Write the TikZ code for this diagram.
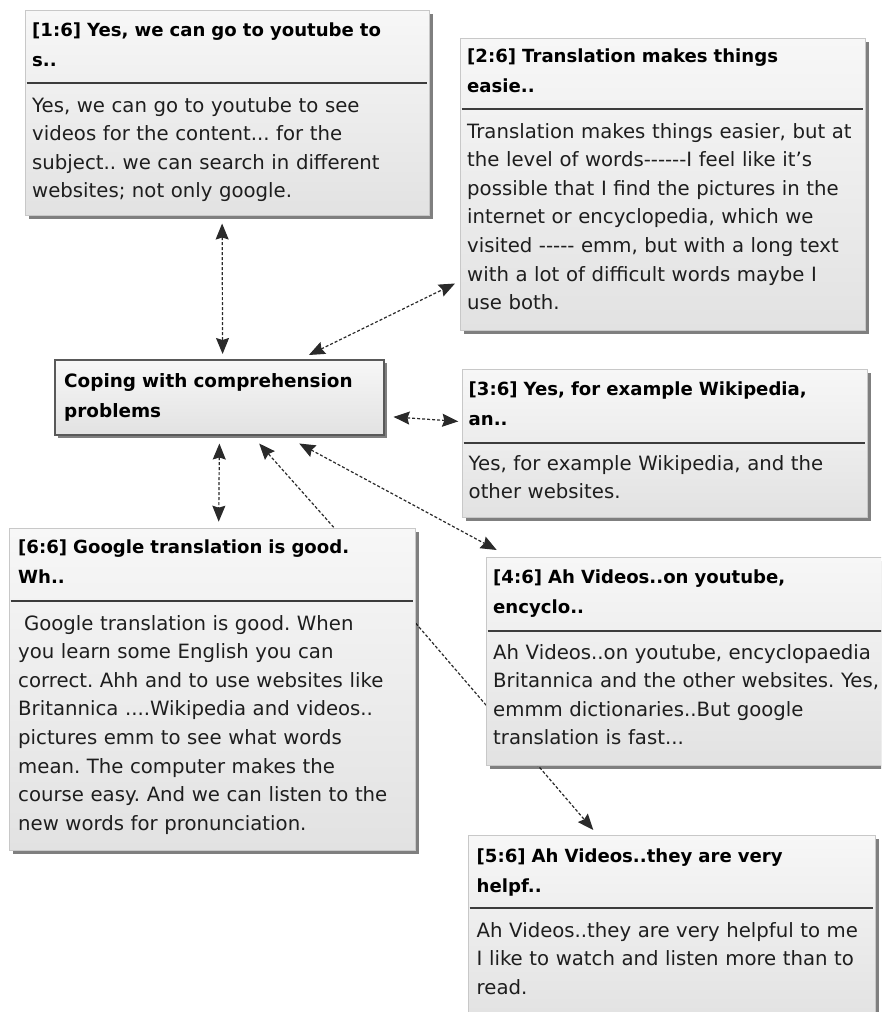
\documentclass[tikz,border=0pt]{standalone}
\usepackage{fontspec}
\setmainfont{DejaVu Sans}
\usetikzlibrary{arrows.meta,shadows,backgrounds,calc}
\definecolor{boxtop}{HTML}{F7F7F7}
\definecolor{boxbot}{HTML}{E2E2E2}
\definecolor{edgec}{HTML}{C8C8C8}
\definecolor{sepc}{HTML}{3C3C3C}
\definecolor{conc}{HTML}{2A2A2A}
\definecolor{txtc}{HTML}{1E1E1E}
\frenchspacing
\tikzset{
  card/.style={rectangle, anchor=north west, inner sep=0pt, draw=edgec, line width=0.8pt,
    top color=boxtop, bottom color=boxbot,
    drop shadow={shadow xshift=3.5pt, shadow yshift=-3.5pt, fill=black, opacity=0.5}},
  hub/.style={card, draw=black!65, line width=1.8pt},
  ttl/.style={anchor=base west, inner sep=0pt, text width=420pt, align=left,
    font=\bfseries\fontsize{18.1}{30}\selectfont, text=black},
  bdy/.style={anchor=base west, inner sep=0pt, text width=420pt, align=left,
    font=\fontsize{19.7}{28.6}\selectfont, text=txtc},
  divider/.style={draw=sepc, line width=1.3pt},
  conn/.style={draw=conc, line width=1.2pt, dash pattern=on 3pt off 2pt},
}
\begin{document}
\begin{tikzpicture}[x=1pt, y=-1pt, >={Stealth[length=16pt,width=13pt,inset=2pt]}]
\useasboundingbox (0,0) rectangle (881,1012);
\clip (0,0) rectangle (881,1012);

% box 1
\node[card, minimum width=404pt, minimum height=205pt] (b1) at (25,10) {};
\node[ttl] (b1t) at (32,36) {[1:6] Yes, we can go to youtube to\\s..};
\draw[divider] ([xshift=1.5pt]b1.west |- 0,83) -- ([xshift=-3pt]b1.east |- 0,83);
\node[bdy] (b1b) at (32,112) {Yes, we can go to youtube to see\\videos for the content... for the\\subject.. we can search in different\\websites; not only google.};

% box 2
\node[card, minimum width=405pt, minimum height=292pt] (b2) at (460,38) {};
\node[ttl] (b2t) at (467,62) {[2:6] Translation makes things\\easie..};
\draw[divider] ([xshift=1.5pt]b2.west |- 0,109) -- ([xshift=-3pt]b2.east |- 0,109);
\node[bdy] (b2b) at (467,138) {Translation makes things easier, but at\\the level of words-{}-{}-{}-{}-{}-I feel like it's\\possible that I find the pictures in the\\internet or encyclopedia, which we\\visited -{}-{}-{}-{}- emm, but with a long text\\with a lot of difficult words maybe I\\use both.};

% central
\node[hub, minimum width=329pt, minimum height=75pt] (c) at (54,359) {};
\node[ttl, font=\bfseries\fontsize{18.4}{30}\selectfont] (ct) at (64,387) {Coping with comprehension\\problems};

% box 3
\node[card, minimum width=405pt, minimum height=148pt] (b3) at (462,369) {};
\node[ttl] (b3t) at (468.5,395) {[3:6] Yes, for example Wikipedia,\\an..};
\draw[divider] ([xshift=1.5pt]b3.west |- 0,443) -- ([xshift=-3pt]b3.east |- 0,443);
\node[bdy] (b3b) at (468.5,470) {Yes, for example Wikipedia, and the\\other websites.};

% box 6
\node[card, minimum width=406pt, minimum height=322pt] (b6) at (9,528) {};
\node[ttl] (b6t) at (18,553) {[6:6] Google translation is good.\\Wh..};
\draw[divider] ([xshift=1.5pt]b6.west |- 0,601) -- ([xshift=-3pt]b6.east |- 0,601);
\node[bdy] (b6b) at (18,630) {\hspace*{0.3em}Google translation is good. When\\you learn some English you can\\correct. Ahh and to use websites like\\Britannica ....Wikipedia and videos..\\pictures emm to see what words\\mean. The computer makes the\\course easy. And we can listen to the\\new words for pronunciation.};

% box 4
\node[card, minimum width=406pt, minimum height=208pt] (b4) at (486,557) {};
\node[ttl] (b4t) at (493,583) {[4:6] Ah Videos..on youtube,\\encyclo..};
\draw[divider] ([xshift=1.5pt]b4.west |- 0,631) -- ([xshift=-3pt]b4.east |- 0,631);
\node[bdy] (b4b) at (493,659) {Ah Videos..on youtube, encyclopaedia\\Britannica and the other websites. Yes,\\emmm dictionaries..But google\\translation is fast...};

% box 5
\node[card, minimum width=407pt, minimum height=185pt] (b5) at (468,835) {};
\node[ttl] (b5t) at (476.5,862) {[5:6] Ah Videos..they are very\\helpf..};
\draw[divider] ([xshift=1.5pt]b5.west |- 0,908) -- ([xshift=-3pt]b5.east |- 0,908);
\node[bdy] (b5b) at (476.5,937) {Ah Videos..they are very helpful to me\\I like to watch and listen more than to\\read.};

% connectors
\begin{scope}[on background layer]
\draw[conn,<->] ([xshift=-5.3pt,yshift=-7.7pt]b1.south) -- ([xshift=3.2pt,yshift=5pt]c.north);
\draw[conn,<->] ([xshift=89.5pt,yshift=4pt]c.north) -- ([xshift=-5pt,yshift=47.3pt]b2.south west);
\draw[conn,<->] ([xshift=8.7pt,yshift=-19.5pt]c.east) -- ([xshift=-3.7pt,yshift=22pt]b3.west);
\draw[conn,<->] ([yshift=-7.7pt]c.south) -- ([xshift=6.3pt,yshift=6.3pt]b6.north);
\draw[conn,->] ([xshift=121.3pt,yshift=0.7pt]b6.north) -- ([xshift=39.8pt,yshift=-7.7pt]c.south);
\draw[conn,<->] ([xshift=79.8pt,yshift=-7.7pt]c.south) -- ([xshift=10.7pt,yshift=7pt]b4.north west);
\draw[conn,->] ([yshift=-95.3pt]b6.north east) -- ([xshift=125.3pt,yshift=5pt]b5.north west);
\end{scope}
\end{tikzpicture}
\end{document}
